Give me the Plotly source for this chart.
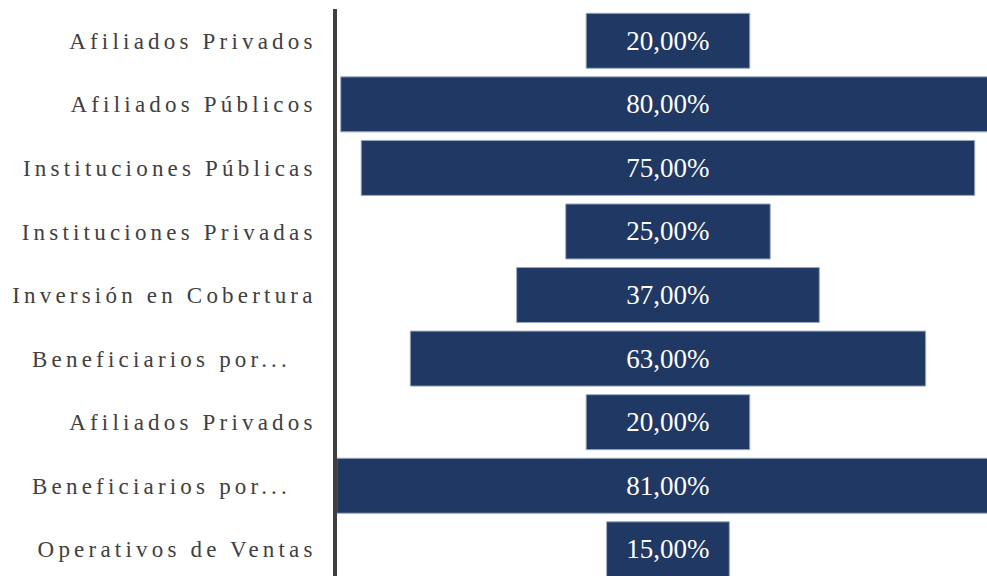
import plotly.graph_objects as go

categories = [
    "Afiliados Privados",
    "Afiliados Públicos",
    "Instituciones Públicas",
    "Instituciones Privadas",
    "Inversión en Cobertura",
    "Beneficiarios por...\u00a0\u2002",
    "Afiliados Privados",
    "Beneficiarios por...\u00a0\u2002",
    "Operativos de Ventas",
]
values = [20, 80, 75, 25, 37, 63, 20, 81, 15]
labels = [f"{v:.2f}%".replace(".", ",") for v in values]
positions = list(range(len(categories)))

fig = go.Figure(
    go.Funnel(
        x=values,
        y=positions,
        orientation="h",
        text=labels,
        textinfo="text",
        textposition="inside",
        insidetextanchor="middle",
        insidetextfont=dict(family="Liberation Serif", size=27, color="white"),
        marker=dict(color="#203864", line=dict(color="#9aa8bd", width=1)),
        connector=dict(visible=False),
        width=0.865,
        hoverinfo="skip",
    )
)

fig.update_layout(
    width=987,
    height=576,
    margin=dict(l=337, r=0, t=9, b=0),
    paper_bgcolor="white",
    plot_bgcolor="white",
    showlegend=False,
    xaxis=dict(range=[-40.46, 39.0], visible=False, fixedrange=True),
    yaxis=dict(
        range=[8.42, -0.5],
        tickmode="array",
        tickvals=positions,
        ticktext=categories,
        showgrid=False,
        zeroline=False,
        showline=True,
        linecolor="#404040",
        linewidth=3.5,
        ticks="",
        ticklabelstandoff=12,
        tickfont=dict(family="Liberation Serif", size=23, color="#404040"),
        fixedrange=True,
    ),
)

post = (
    "var s=document.createElement('style');"
    "s.textContent='html,body{margin:0;padding:0;overflow:hidden}.ytick text{letter-spacing:4.2px}';"
    "document.head.appendChild(s);"
)
fig.write_html("out.html", post_script=post, config={"displayModeBar": False})
